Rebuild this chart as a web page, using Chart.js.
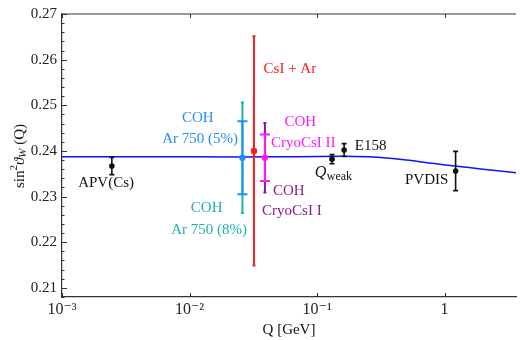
<!DOCTYPE html>
<html>
<head>
<meta charset="utf-8">
<script src="https://cdn.jsdelivr.net/npm/chart.js@4.4.0/dist/chart.umd.min.js"></script>
<style>
  html, body { margin: 0; padding: 0; background: #fff; }
  #wrap { width: 520px; height: 340px; }
</style>
</head>
<body>
<div id="wrap"><canvas id="chart"></canvas></div>
<script>
// Running of the weak mixing angle (SM curve)
const runQ = [0.001, 0.01, 0.05, 0.1, 0.2, 0.3, 0.5, 0.8, 1.2, 2, 3.7];
const runS = [0.2387, 0.2387, 0.2387, 0.2388, 0.2388, 0.2386, 0.2380, 0.2373, 0.2367, 0.2360, 0.2352];

// Existing measurements
const measNames = ['APV(Cs)', 'Qweak', 'E158', 'PVDIS'];
const measQ = [0.00246, 0.131, 0.163, 1.22];
const measVal = [0.2367, 0.2382, 0.2402, 0.2356];
const measErr = [0.0019, 0.0010, 0.0014, 0.0043];

// Projected sensitivities
const projNames = ['COH Ar 750', 'CsI + Ar', 'COH CryoCsI'];
const projQ = [0.026, 0.032, 0.039];
const projVal = [0.2385, 0.2400, 0.2385];
const projErrOuter = [0.0121, 0.0251, 0.0076];   // Ar 8%, CsI+Ar, CryoCsI I
const projErrInner = [0.0080, null, 0.0051];     // Ar 5%, -, CryoCsI II

// Axis ticks
const xTicks = [0.001, 0.01, 0.1, 1];
const xTickLabels = ['10\u207B\u00B3', '10\u207B\u00B2', '10\u207B\u00B9', '1'];
const yTicks = [0.21, 0.22, 0.23, 0.24, 0.25, 0.26, 0.27];

const projOuterColor = ['#20b2aa', '#ff1a1a', '#8b1a8b'];
const projInnerColor = ['#1e8fff', null, '#ff1aff'];
const projDotColor = ['#1e8fff', '#ff1a1a', '#ff1aff'];

const FONT = '"Liberation Serif", "DejaVu Serif", serif';

// text annotations, anchored in data coordinates
const notes = [
  { t: 'CsI + Ar', c: '#ff1a1a', q: 0.0612, v: 0.2580 },
  { t: 'COH', c: '#1e8fff', q: 0.0116, v: 0.2472 },
  { t: 'Ar 750 (5%)', c: '#1e8fff', q: 0.0121, v: 0.2426 },
  { t: 'COH', c: '#ff1aff', q: 0.0739, v: 0.2463 },
  { t: 'CryoCsI II', c: '#ff1aff', q: 0.0780, v: 0.2417 },
  { t: 'E158', c: '#111', q: 0.2633, v: 0.2411 },
  { t: 'COH', c: '#20b2aa', q: 0.01363, v: 0.2274 },
  { t: 'Ar 750 (8%)', c: '#20b2aa', q: 0.01425, v: 0.2226 },
  { t: 'COH', c: '#8b1a8b', q: 0.0601, v: 0.2312 },
  { t: 'CryoCsI I', c: '#8b1a8b', q: 0.0635, v: 0.2268 },
  { t: 'APV(Cs)', c: '#111', q: 0.002217, v: 0.2329 },
  { t: 'PVDIS', c: '#111', q: 0.7235, v: 0.2337 }
];

function drawBar(ctx, x, yLo, yHi, color, width, cap) {
  ctx.strokeStyle = color;
  ctx.lineWidth = width;
  ctx.beginPath();
  ctx.moveTo(x, yLo);
  ctx.lineTo(x, yHi);
  ctx.moveTo(x - cap, yLo);
  ctx.lineTo(x + cap, yLo);
  ctx.moveTo(x - cap, yHi);
  ctx.lineTo(x + cap, yHi);
  ctx.stroke();
}

const errorBars = {
  id: 'errorBars',
  afterDatasetDraw(chart, args) {
    if (args.index !== 1) return;
    const ctx = chart.ctx;
    const xs = chart.scales.x, ys = chart.scales.y;
    ctx.save();
    ctx.lineCap = 'butt';
    projQ.forEach((q, i) => {
      const x = xs.getPixelForValue(q);
      drawBar(ctx, x, ys.getPixelForValue(projVal[i] - projErrOuter[i]),
        ys.getPixelForValue(projVal[i] + projErrOuter[i]), projOuterColor[i], 2, 1.5);
      if (projErrInner[i] != null) {
        drawBar(ctx, x, ys.getPixelForValue(projVal[i] - projErrInner[i]),
          ys.getPixelForValue(projVal[i] + projErrInner[i]), projInnerColor[i], 2, 5);
      }
    });
    measQ.forEach((q, i) => {
      const x = xs.getPixelForValue(q);
      drawBar(ctx, x, ys.getPixelForValue(measVal[i] - measErr[i]),
        ys.getPixelForValue(measVal[i] + measErr[i]), '#111', 1.6, 2.5);
    });
    ctx.restore();
  }
};

const frame = {
  id: 'frame',
  afterDraw(chart) {
    const ctx = chart.ctx;
    const a = chart.chartArea;
    const xs = chart.scales.x, ys = chart.scales.y;
    ctx.save();
    ctx.strokeStyle = '#333';
    ctx.lineWidth = 1.2;
    ctx.beginPath();
    ctx.moveTo(a.left, a.top);
    ctx.lineTo(a.right, a.top);
    ctx.stroke();
    ctx.lineWidth = 1;
    ctx.beginPath();
    xTicks.forEach(q => {
      const x = Math.round(xs.getPixelForValue(q)) + 0.5;
      ctx.moveTo(x, a.bottom); ctx.lineTo(x, a.bottom - 4);
      ctx.moveTo(x, a.top); ctx.lineTo(x, a.top + 4);
    });
    for (let k = 0; k <= 31; k++) {
      const v = 0.208 + k * 0.002;
      if (v > 0.2701) break;
      const y = Math.round(ys.getPixelForValue(v)) + 0.5;
      const major = Math.abs(v * 100 - Math.round(v * 100)) < 1e-6;
      ctx.moveTo(a.left, y); ctx.lineTo(a.left + (major ? 5 : 2.5), y);
    }
    ctx.stroke();

    // annotations
    ctx.font = '15px ' + FONT;
    ctx.textAlign = 'center';
    ctx.textBaseline = 'middle';
    notes.forEach(n => {
      ctx.fillStyle = n.c;
      ctx.fillText(n.t, xs.getPixelForValue(n.q), ys.getPixelForValue(n.v));
    });

    // Q_weak label
    const qx = xs.getPixelForValue(0.0958), qy = ys.getPixelForValue(0.2353);
    ctx.fillStyle = '#111';
    ctx.textAlign = 'left';
    ctx.textBaseline = 'alphabetic';
    ctx.font = 'italic 16px ' + FONT;
    ctx.fillText('Q', qx, qy + 5);
    const qw = ctx.measureText('Q').width;
    ctx.font = '12px ' + FONT;
    ctx.fillText('weak', qx + qw + 0.5, qy + 8);

    // x title
    ctx.font = '15px ' + FONT;
    ctx.textAlign = 'center';
    ctx.textBaseline = 'middle';
    ctx.fillText('Q [GeV]', (a.left + a.right) / 2, a.bottom + 33);

    // y title: sin^2 theta_W (Q)
    ctx.translate(20, 156);
    ctx.rotate(-Math.PI / 2);
    const parts = [
      { s: 'sin', f: '15px ', dy: 0 },
      { s: '2', f: '11px ', dy: -6 },
      { s: '\u03D1', f: 'italic 15px ', dy: 0 },
      { s: 'W', f: 'italic 11px ', dy: 3 },
      { s: ' (Q)', f: '15px ', dy: 0 }
    ];
    let w = 0;
    parts.forEach(p => { ctx.font = p.f + FONT; p.w = ctx.measureText(p.s).width; w += p.w; });
    let cx = -w / 2;
    ctx.textAlign = 'left';
    ctx.textBaseline = 'middle';
    parts.forEach(p => {
      ctx.font = p.f + FONT;
      ctx.fillText(p.s, cx, p.dy);
      cx += p.w;
    });
    ctx.restore();
  }
};

new Chart(document.getElementById('chart'), {
  type: 'scatter',
  data: {
    datasets: [
      {
        label: 'points',
        data: measQ.map((q, i) => ({ x: q, y: measVal[i] }))
          .concat(projQ.map((q, i) => ({ x: q, y: projVal[i] }))),
        backgroundColor: measQ.map(() => '#111').concat(projDotColor),
        borderWidth: 0,
        pointRadius: measQ.map(() => 2.8).concat(projQ.map(() => 3.2))
      },
      {
        label: 'running',
        data: runQ.map((q, i) => ({ x: q, y: runS[i] })),
        showLine: true,
        borderColor: '#0a14ff',
        borderWidth: 1.5,
        pointRadius: 0,
        tension: 0.3
      }
    ]
  },
  options: {
    responsive: true,
    maintainAspectRatio: false,
    animation: false,
    devicePixelRatio: 1,
    layout: { padding: { top: 12, right: 0, left: 0, bottom: 0 } },
    plugins: { legend: { display: false }, tooltip: { enabled: false } },
    scales: {
      x: {
        type: 'logarithmic',
        min: 0.001,
        max: 3.63,
        grid: { display: false, drawTicks: false },
        border: { display: true, color: '#333', width: 1.2 },
        afterBuildTicks: s => { s.ticks = xTicks.map(v => ({ value: v })); },
        afterFit: s => { s.height = 43; },
        ticks: {
          autoSkip: false,
          maxRotation: 0,
          padding: 3,
          color: '#222',
          font: { family: FONT, size: 16 },
          callback: v => {
            const i = xTicks.findIndex(t => Math.abs(t - v) / t < 1e-6);
            return i >= 0 ? xTickLabels[i] : '';
          }
        }
      },
      y: {
        min: 0.208,
        max: 0.27,
        grid: { display: false, drawTicks: false },
        border: { display: true, color: '#333', width: 1.2 },
        afterBuildTicks: s => { s.ticks = yTicks.map(v => ({ value: v })); },
        afterFit: s => { s.width = 62; },
        ticks: {
          padding: 5,
          color: '#222',
          font: { family: FONT, size: 15 },
          callback: v => v.toFixed(2)
        }
      }
    }
  },
  plugins: [errorBars, frame]
});
</script>
</body>
</html>
